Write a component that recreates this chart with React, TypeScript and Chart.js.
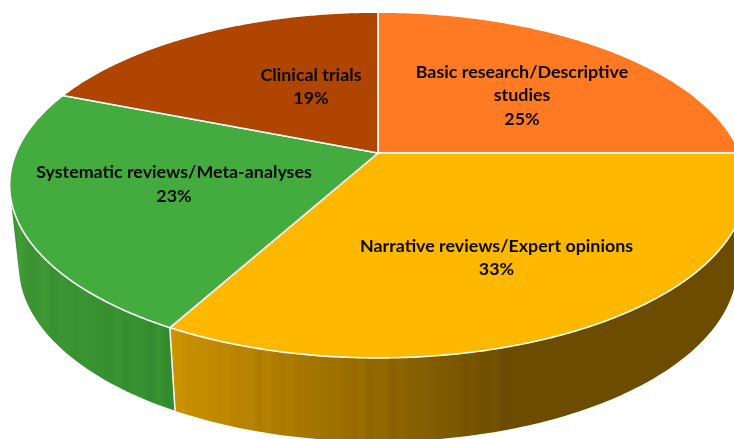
import React, { useEffect, useRef } from "react";
import { Chart, registerables } from "chart.js";

Chart.register(...registerables);

const categories = [
  "Basic research/Descriptive studies",
  "Narrative reviews/Expert opinions",
  "Systematic reviews/Meta-analyses",
  "Clinical trials",
];
const values = [25, 33, 23, 19];
const labelLines = [
  ["Basic research/Descriptive", "studies"],
  ["Narrative reviews/Expert opinions"],
  ["Systematic reviews/Meta-analyses"],
  ["Clinical trials"],
];
const topColors = ["#FF7A22", "#FFB800", "#44AB3E", "#B04500"];

// wall shade: [x0, rgb0, x1, rgb1, band strength]
const wallShades: [number, number[], number, number[], number][] = [
  [600, [120, 60, 20], 734, [120, 60, 20], 0],
  [172, [204, 146, 0], 512, [107, 76, 0], 4],
  [12, [62, 150, 52], 175, [52, 142, 46], 7],
  [60, [100, 40, 0], 200, [100, 40, 0], 0],
];

const labelAnchors = [
  [522, 72],
  [496.5, 246],
  [174, 172.5],
  [311, 75],
];
const LINE_H = 23.7;
const FONT = 'bold 17.85px Lato, "Open Sans", sans-serif';

// perspective projection of the pie disc
const P = 0.185;
const TOP = { cx: 378, cy: 153, A: 167, B: 362 };
const BOTTOM = { cx: 378, cy: 233, A: 170, B: 353 };

function project(g: typeof TOP, theta: number, r = 1) {
  const u = Math.sin(theta) * r;
  const v = -Math.cos(theta) * r;
  const d = 1 - P * v;
  return { x: g.cx + (g.B * u) / d, y: g.cy + (g.A * v) / d };
}

function wallGradient(ctx: CanvasRenderingContext2D, i: number) {
  const [x0, c0, x1, c1, strength] = wallShades[i];
  const g = ctx.createLinearGradient(x0, 0, x1, 0);
  const steps = Math.max(1, Math.round((x1 - x0) / 8));
  for (let k = 0; k <= steps; k++) {
    const t = k / steps;
    const x = x0 + (x1 - x0) * t;
    const band = k === steps ? 0 : strength * Math.sin(x * 0.37) * Math.sin(x * 0.091);
    const col = c0.map((c, j) => Math.round(c + (c1[j] - c) * t + band * (j === 2 ? 0.4 : 1)));
    g.addColorStop(t, `rgb(${col[0]},${col[1]},${col[2]})`);
  }
  return g;
}

const piePlugin = {
  id: "perspectivePie",
  beforeDatasetsDraw(chart: any) {
    const ctx = chart.ctx as CanvasRenderingContext2D;
    const arcs = chart.getDatasetMeta(0).data as any[];
    const angles = arcs.map((a) => [a.startAngle + Math.PI / 2, a.endAngle + Math.PI / 2]);

    // walls: one path of many same-winding quads per slice, so no seams show
    angles.forEach(([s, e], i) => {
      const n = Math.ceil((e - s) * 60);
      ctx.beginPath();
      for (let k = 0; k < n; k++) {
        const a = s + ((e - s) * k) / n;
        const b = s + ((e - s) * (k + 1)) / n;
        const p1 = project(TOP, a);
        const p2 = project(TOP, b);
        const p3 = project(BOTTOM, b);
        const p4 = project(BOTTOM, a);
        const cross = (p2.x - p1.x) * (p4.y - p1.y) - (p2.y - p1.y) * (p4.x - p1.x);
        const pts = cross >= 0 ? [p1, p2, p3, p4] : [p4, p3, p2, p1];
        ctx.moveTo(pts[0].x, pts[0].y);
        ctx.lineTo(pts[1].x, pts[1].y);
        ctx.lineTo(pts[2].x, pts[2].y);
        ctx.lineTo(pts[3].x, pts[3].y);
        ctx.closePath();
      }
      ctx.fillStyle = wallGradient(ctx, i);
      ctx.fill();
    });
    // white seam on the wall between the front slices
    const seam = angles[1][1];
    const s1 = project(TOP, seam);
    const s2 = project(BOTTOM, seam);
    ctx.strokeStyle = "#ffffff";
    ctx.lineWidth = 1.5;
    ctx.beginPath();
    ctx.moveTo(s1.x, s1.y);
    ctx.lineTo(s2.x, s2.y);
    ctx.stroke();

    // top disc
    angles.forEach(([s, e], i) => {
      const n = Math.ceil((e - s) * 120);
      const c = project(TOP, 0, 0);
      ctx.beginPath();
      ctx.moveTo(c.x, c.y);
      for (let k = 0; k <= n; k++) {
        const p = project(TOP, s + ((e - s) * k) / n);
        ctx.lineTo(p.x, p.y);
      }
      ctx.closePath();
      ctx.fillStyle = topColors[i];
      ctx.fill();
      ctx.strokeStyle = "#ffffff";
      ctx.lineWidth = 1.6;
      ctx.lineJoin = "round";
      ctx.stroke();
    });
    return false;
  },
  afterDraw(chart: any) {
    const ctx = chart.ctx as CanvasRenderingContext2D;
    ctx.save();
    ctx.font = FONT;
    ctx.fillStyle = "#0a0a0a";
    ctx.textAlign = "center";
    ctx.textBaseline = "middle";
    categories.forEach((_, i) => {
      const lines = [...labelLines[i], `${values[i]}%`];
      lines.forEach((t, j) => ctx.fillText(t, labelAnchors[i][0], labelAnchors[i][1] + j * LINE_H));
    });
    ctx.restore();
  },
};

export default function App() {
  const ref = useRef<HTMLCanvasElement>(null);
  useEffect(() => {
    const chart = new Chart(ref.current!, {
      type: "pie",
      data: {
        labels: categories,
        datasets: [{ data: values, backgroundColor: topColors, borderColor: "#ffffff" }],
      },
      options: {
        animation: false,
        responsive: false,
        plugins: { legend: { display: false }, tooltip: { enabled: false } },
      },
      plugins: [piePlugin],
    });
    return () => chart.destroy();
  }, []);
  return (
    <canvas
      ref={ref}
      width={734}
      height={439}
      style={{ position: "absolute", left: 0, top: 0, display: "block", background: "#fff" }}
    />
  );
}
